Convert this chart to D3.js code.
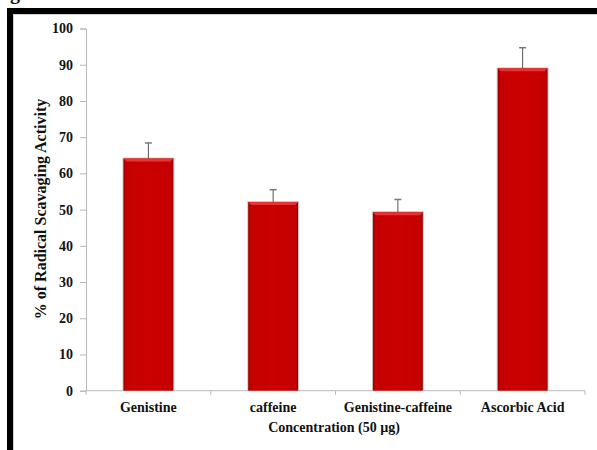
<!DOCTYPE html>
<html>
<head>
<meta charset="utf-8">
<script src="https://cdn.jsdelivr.net/npm/d3@7.9.0/dist/d3.min.js"></script>
<style>
  body { margin: 0; background: #fff; }
  svg { display: block; }
  text { font-family: "Liberation Serif", "Times New Roman", serif; font-weight: bold; fill: #111; }
</style>
</head>
<body>
<svg id="chart" width="597" height="450"></svg>
<script>
// data
const categories = ['Genistine', 'caffeine', 'Genistine-caffeine', 'Ascorbic Acid'];
const values = [64.1, 52.1, 49.3, 89.0];
const errors = [4.3, 3.4, 3.5, 5.7];
const yTicks = [0, 10, 20, 30, 40, 50, 60, 70, 80, 90, 100];

const svg = d3.select('#chart');

// plot area
const plotLeft = 86, plotRight = 585, plotTop = 28.5, plotBottom = 390.7;

// bevel gradient for bars
const defs = svg.append('defs');
const side = defs.append('linearGradient').attr('id', 'side').attr('x1', 0).attr('x2', 1).attr('y1', 0).attr('y2', 0);
side.append('stop').attr('offset', '0%').attr('stop-color', '#9a0000');
side.append('stop').attr('offset', '5%').attr('stop-color', '#c40000');
side.append('stop').attr('offset', '50%').attr('stop-color', '#cc0000');
side.append('stop').attr('offset', '95%').attr('stop-color', '#c40000');
side.append('stop').attr('offset', '100%').attr('stop-color', '#9a0000');

// outer black frame (cropped at right / bottom)
svg.append('path')
  .attr('d', 'M10,460 L10,11 L610,11')
  .attr('fill', 'none')
  .attr('stroke', '#000')
  .attr('stroke-width', 6);
svg.append('path')
  .attr('d', 'M13.5,460 L13.5,14.5 L610,14.5')
  .attr('fill', 'none')
  .attr('stroke', '#ccc')
  .attr('stroke-width', 1);

// bit of caption above the frame (cut off in the original too)
svg.append('text').attr('x', 10).attr('y', -1).style('font-size', '20px').text('g');

let x = d3.scaleBand().domain(categories).range([plotLeft, plotRight]).paddingInner(0.6).paddingOuter(0.3);
let y = d3.scaleLinear().domain([0, 100]).range([plotBottom, plotTop]);

// axes
let yAxis = d3.axisLeft(y).tickValues(yTicks).tickSize(6).tickPadding(7);
let gy = svg.append('g').attr('transform', `translate(${plotLeft},0)`).call(yAxis);
gy.select('.domain').attr('stroke', '#b8b8b8');
gy.selectAll('.tick line').attr('stroke', '#b8b8b8');
gy.selectAll('.tick text').style('font-size', '14px').attr('fill', '#111');

let xAxis = d3.axisBottom(x).tickSize(0).tickPadding(0);
let gx = svg.append('g').attr('transform', `translate(0,${plotBottom})`).call(xAxis);
gx.select('.domain').attr('stroke', '#b8b8b8').attr('d', `M${plotLeft},0H${plotRight}`);
gx.selectAll('.tick text').style('font-size', '14px').attr('fill', '#111').attr('dy', 0).attr('y', 21);

// category separators (ticks between bands)
d3.range(categories.length + 1).forEach((i) => {
  let xp = plotLeft + i * (plotRight - plotLeft) / categories.length;
  svg.append('line')
    .attr('x1', xp).attr('x2', xp)
    .attr('y1', plotBottom).attr('y2', plotBottom + 4)
    .attr('stroke', '#b8b8b8');
});

// bars
categories.forEach((c, i) => {
  let bx = x(c), bw = x.bandwidth(), by = y(values[i]);
  let g = svg.append('g');
  // soft shadow
  g.append('rect')
    .attr('x', bx - 1).attr('y', by - 1)
    .attr('width', bw + 2).attr('height', plotBottom - by + 1)
    .attr('fill', '#d8c8c8');
  g.append('rect')
    .attr('x', bx).attr('y', by)
    .attr('width', bw).attr('height', plotBottom - by)
    .attr('fill', 'url(#side)');
  // top bevel
  g.append('path')
    .attr('d', `M${bx},${by} L${bx + bw},${by} L${bx + bw - 3},${by + 3} L${bx + 3},${by + 3} Z`)
    .attr('fill', '#e63434');
});

// error bars (upward only)
categories.forEach((c, i) => {
  let cx = x(c) + x.bandwidth() / 2;
  svg.append('line')
    .attr('x1', cx).attr('x2', cx)
    .attr('y1', y(values[i])).attr('y2', y(values[i] + errors[i]))
    .attr('stroke', '#555').attr('stroke-width', 1);
  svg.append('line')
    .attr('x1', cx - 3.5).attr('x2', cx + 3.5)
    .attr('y1', y(values[i] + errors[i])).attr('y2', y(values[i] + errors[i]))
    .attr('stroke', '#777').attr('stroke-width', 1.5);
});

// axis titles
svg.append('text')
  .attr('transform', 'translate(46,209) rotate(-90)')
  .attr('text-anchor', 'middle')
  .style('font-size', '16px')
  .text('% of Radical Scavaging Activity');

svg.append('text')
  .attr('x', 334).attr('y', 432)
  .attr('text-anchor', 'middle')
  .style('font-size', '14px')
  .text('Concentration (50 µg)');
</script>
</body>
</html>
